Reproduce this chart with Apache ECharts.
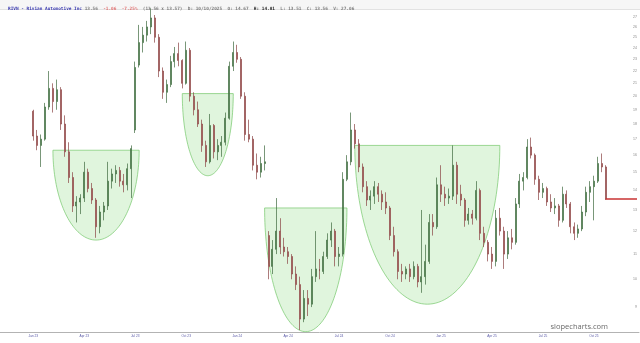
<!DOCTYPE html>
<html><head><meta charset="utf-8">
<script src="https://cdn.jsdelivr.net/npm/echarts@6/dist/echarts.min.js"></script>
<style>html,body{margin:0;padding:0;background:#fff}#c{width:640px;height:343px}</style>
</head><body><div id="c"></div>
<script>
// ---- data (weekly candles) ----
const firstWeek = '2023-01-02';
const padWeeks = 8;
const totalWeeks = 163;
const opens  = [18.9,17.2,16.6,17.0,19.2,20.6,19.6,20.5,18.0,16.2,14.7,13.2,13.4,13.6,15.0,14.1,13.5,12.2,12.9,13.2,14.5,14.9,15.1,14.5,14.3,15.2,
  17.6,22.5,24.5,25.2,26.0,26.9,25.0,22.0,20.3,20.9,22.8,23.5,22.9,21.0,23.8,20.0,19.0,18.0,16.6,15.6,17.9,16.2,16.6,16.8,18.4,22.4,23.6,23.0,20.0,17.3,17.0,15.4,15.0,15.5,
  11.8,10.5,11.2,12.0,11.3,11.1,10.9,10.2,9.8,8.6,9.3,9.1,10.1,10.4,10.3,10.9,11.6,12.0,10.9,11.0,14.6,15.6,17.6,16.7,15.3,14.2,13.5,13.7,14.2,13.8,13.4,13.1,11.8,11.1,10.3,10.2,10.4,10.1,10.5,9.9,
  10.1,10.7,12.4,12.2,14.3,13.8,13.6,13.7,15.4,13.8,13.5,12.5,12.8,12.6,14.0,11.9,11.5,11.0,10.7,12.6,12.0,11.0,11.7,11.5,13.3,14.5,14.7,16.5,16.0,14.6,13.9,14.1,13.4,13.1,13.2,12.5,13.8,13.3,12.2,11.9,12.1,12.9,13.9,14.2,14.5,15.5,15.3];
const highs  = [19.0,17.6,17.3,19.5,22.0,21.0,21.3,20.7,18.6,16.8,15.0,13.7,13.8,15.6,15.2,14.4,13.6,13.2,13.4,15.6,15.2,15.4,15.3,14.9,15.5,16.6,
  22.8,26.2,26.0,26.6,27.9,27.2,25.3,22.3,21.3,23.3,24.1,24.5,23.0,24.6,24.0,20.3,19.6,18.3,16.9,18.7,18.0,17.0,17.2,18.8,22.8,24.6,24.3,23.2,20.3,18.3,17.2,16.1,15.9,16.6,
  12.0,11.6,13.6,12.6,11.7,11.3,11.0,10.5,10.1,9.6,9.6,10.4,12.0,10.8,11.1,11.9,12.4,12.1,11.3,15.0,16.0,18.8,18.0,17.0,15.5,14.5,14.0,14.5,14.4,14.0,13.9,13.2,12.2,11.2,10.6,10.5,10.6,10.7,10.6,13.0,
  11.4,12.8,12.8,14.7,15.4,14.2,14.1,16.6,15.6,14.3,13.6,13.1,13.0,14.5,14.1,12.2,11.6,11.3,13.0,13.1,12.2,12.0,12.1,13.6,14.9,15.0,17.0,17.1,16.1,14.8,14.4,14.2,13.8,13.6,13.3,14.2,14.0,13.4,12.4,12.3,13.2,14.2,14.5,14.8,15.9,16.1,15.4];
const lows   = [16.9,16.3,15.3,16.9,19.0,18.8,19.0,17.6,15.9,14.4,12.9,12.4,12.8,13.4,13.9,13.3,11.7,11.9,12.5,13.0,14.1,14.4,14.2,13.9,14.0,13.6,
  17.4,22.3,23.6,24.6,25.3,24.5,21.5,19.8,19.5,20.7,22.3,22.4,20.6,20.9,19.6,18.6,17.8,16.2,15.3,15.5,15.8,15.7,15.9,16.6,18.3,22.0,22.7,19.8,16.9,16.8,15.1,14.6,14.7,15.1,
  10.0,10.2,11.0,11.0,10.9,10.6,10.0,9.6,8.25,8.5,8.7,9.0,9.9,10.0,10.2,10.8,11.3,10.5,10.5,10.9,14.5,15.4,16.4,15.0,13.9,13.2,13.0,13.3,13.4,13.0,12.8,11.6,10.9,10.0,9.9,10.0,9.9,10.0,9.7,9.5,
  9.8,10.6,11.8,12.1,13.4,13.2,13.3,13.5,13.3,13.2,12.2,12.3,12.3,12.5,11.6,11.3,10.7,10.4,10.5,11.8,10.4,10.8,11.2,11.4,13.1,14.0,14.6,15.8,14.3,13.5,13.6,13.2,12.9,12.8,12.2,12.4,13.1,11.9,11.6,11.7,12.0,12.7,13.4,12.5,14.4,15.0,13.5];
const closes = [17.2,16.6,17.0,19.2,20.6,19.6,20.5,18.0,16.2,14.7,13.2,13.4,13.6,15.0,14.1,13.5,12.2,12.9,13.2,14.5,14.9,15.1,14.5,14.3,15.2,16.4,
  22.3,24.5,25.2,26.0,26.9,25.0,22.0,20.3,20.9,22.8,23.5,22.9,21.0,23.8,20.0,19.0,18.0,16.6,15.6,17.9,16.2,16.6,16.8,18.4,22.4,23.6,23.0,20.0,17.3,17.0,15.4,15.0,15.5,15.6,
  10.5,11.2,12.0,11.3,11.1,10.9,10.2,9.8,8.6,9.3,9.1,10.1,10.4,10.3,10.9,11.6,12.0,10.9,11.0,14.6,15.6,17.6,16.7,15.3,14.2,13.5,13.7,14.2,13.8,13.4,13.1,11.8,11.1,10.3,10.2,10.4,10.1,10.5,9.9,10.1,
  10.7,12.4,12.2,14.3,13.8,13.6,13.7,15.4,13.8,13.5,12.5,12.8,12.6,14.0,11.9,11.5,11.0,10.7,12.6,12.0,11.0,11.7,11.5,13.3,14.5,14.7,16.5,16.0,14.6,13.9,14.1,13.4,13.1,13.2,12.5,13.8,13.3,12.2,11.9,12.1,12.9,13.9,14.2,14.5,15.5,15.3,13.55];
const yTickValues = [9,10,11,12,13,14,15,16,17,18,19,20,21,22,23,24,25,26,27];
const yMin = 8.19, yMax = 27.72;
// cup annotations: start week, end week, rim price, bottom price
const cupStart  = ['2023-02-06','2023-09-25','2024-02-19','2024-07-29'];
const cupEnd    = ['2023-07-10','2023-12-25','2024-07-15','2025-04-14'];
const cupTop    = [16.3, 20.2, 13.1, 16.6];
const cupBottom = [11.6, 14.8, 8.2, 9.1];
const monthNames = ['Jan','Feb','Mar','Apr','May','Jun','Jul','Aug','Sep','Oct','Nov','Dec'];
const titleParts = {
  name: 'RIVN - Rivian Automotive Inc', last: '13.56', chg: '-1.06  -7.25%',
  mid: '(13.56 x 13.57)  D: 10/10/2025  O: 14.67', hi: 'H: 14.81', rest: 'L: 13.51  C: 13.56  V: 27.06'
};

// ---- build ----
const DAY = 86400000;
const t0 = Date.parse(firstWeek + 'T00:00:00Z') - padWeeks * 7 * DAY;
const categories = [];
for (let k = 0; k < totalWeeks; k++) categories.push(new Date(t0 + k * 7 * DAY).toISOString().slice(0, 10));
const dataDates = categories.slice(padWeeks, padWeeks + opens.length);
const L = Math.log;
const candle = dataDates.map((d, i) => [d, L(opens[i]), L(closes[i]), L(lows[i]), L(highs[i])]);
const lastClose = closes[closes.length - 1];
const lastLine = [[dataDates[dataDates.length - 1], L(lastClose)], [categories[totalWeeks - 1], L(lastClose)]];
const cups = cupStart.map((s, i) => [categories.indexOf(s), categories.indexOf(cupEnd[i]), L(cupTop[i]), L(cupBottom[i])]);

function quarterLabel(v) {
  const e = new Date(Date.parse(v + 'T00:00:00Z') + 3 * DAY);
  if (e.getUTCDate() <= 7 && e.getUTCMonth() % 3 === 0) return monthNames[e.getUTCMonth()] + ' ' + String(e.getUTCFullYear()).slice(2);
  return '';
}

const chart = echarts.init(document.getElementById('c'), null, {renderer: 'canvas'});
chart.setOption({
  animation: false,
  backgroundColor: '#fff',
  title: {
    left: 3, top: 2,
    text: '{a|' + titleParts.name + '} {g|' + titleParts.last + '}  {r|' + titleParts.chg + '}  {g|' + titleParts.mid + '}  {b|' + titleParts.hi + '}  {g|' + titleParts.rest + '}',
    textStyle: {
      fontSize: 4.4, fontFamily: 'DejaVu Sans Mono',
      rich: {
        a: {fontSize: 4.4, fontFamily: 'DejaVu Sans Mono', color: '#3a3ab0'},
        g: {fontSize: 4.4, fontFamily: 'DejaVu Sans Mono', color: '#7a7a7a'},
        r: {fontSize: 4.4, fontFamily: 'DejaVu Sans Mono', color: '#e07070'},
        b: {fontSize: 4.4, fontFamily: 'DejaVu Sans Mono', color: '#222', fontWeight: 'bold'}
      }
    }
  },
  graphic: [
    {type: 'rect', z: -10, shape: {x: 0, y: 0, width: 640, height: 9}, style: {fill: '#f6f6f6'}},
    {type: 'line', z: -10, shape: {x1: 0, y1: 9.5, x2: 640, y2: 9.5}, style: {stroke: '#e2e2e2', lineWidth: 1}},
    {type: 'text', z: 10, style: {text: 'slopecharts.com', x: 608, y: 327, align: 'right', verticalAlign: 'middle',
      font: '7.5px "Open Sans"', fill: '#6a6a6a'}}
  ],
  grid: {left: 0, right: 0, top: 10, bottom: 11, containLabel: false},
  xAxis: {
    type: 'category', data: categories, boundaryGap: true,
    axisLine: {lineStyle: {color: '#b3b3b3', width: 1}},
    axisTick: {show: false},
    splitLine: {show: false},
    axisLabel: {
      interval: (i, v) => quarterLabel(v) !== '',
      formatter: v => quarterLabel(v),
      fontSize: 3.2, color: '#5a5aa8', margin: 3, hideOverlap: false
    }
  },
  yAxis: {
    type: 'value', position: 'right', scale: true,
    min: L(yMin), max: L(yMax),
    splitLine: {show: false}, axisLine: {show: false}, axisTick: {show: false},
    axisLabel: {
      inside: true, margin: 2, fontSize: 3.5, color: '#8a8a8a',
      customValues: yTickValues.map(L),
      formatter: v => String(Math.round(Math.exp(v)))
    }
  },
  series: [
    {
      type: 'custom', z: 1, silent: true,
      encode: {x: [0, 1], y: [2, 3]},
      data: cups,
      renderItem: (params, api) => {
        const a = api.coord([api.value(0), api.value(2)]);
        const b = api.coord([api.value(1), api.value(3)]);
        const x1 = a[0], x2 = b[0], yt = a[1], yb = b[1];
        const cx = (x1 + x2) / 2, rx = (x2 - x1) / 2, ry = yb - yt;
        const pts = [];
        for (let k = 0; k <= 80; k++) {
          const t = Math.PI * k / 80;
          pts.push([cx - rx * Math.cos(t), yt + ry * Math.sin(t)]);
        }
        return {type: 'polygon', shape: {points: pts},
          style: {fill: 'rgba(160,225,150,0.32)', stroke: 'rgba(120,200,110,0.9)', lineWidth: 0.8}};
      }
    },
    {
      type: 'candlestick', z: 2,
      encode: {x: 0, y: [1, 2, 3, 4]},
      data: candle,
      barWidth: '38%',
      itemStyle: {color: '#5e985e', color0: '#c06a6a', borderColor: '#3f6a3f', borderColor0: '#8a4444', borderWidth: 0.7}
    },
    {
      type: 'line', z: 3, data: lastLine, symbol: 'none', silent: true,
      lineStyle: {color: '#c83232', width: 1.5}
    }
  ]
});
</script>
</body></html>
